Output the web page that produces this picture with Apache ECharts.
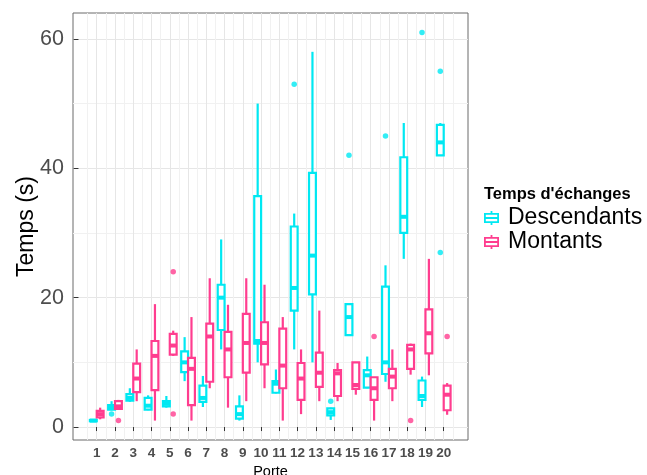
<!DOCTYPE html>
<html>
<head>
<meta charset="utf-8">
<script src="https://cdn.jsdelivr.net/npm/echarts@6/dist/echarts.min.js"></script>
<style>html,body{margin:0;padding:0;background:#fff}#chart{width:647px;height:475px}</style>
</head>
<body>
<div id="chart"></div>
<script>
const gates = [1,2,3,4,5,6,7,8,9,10,11,12,13,14,15,16,17,18,19,20];
const yTicks = [0, 20, 40, 60];
// [min, Q1, median, Q3, max]
const descBoxes = [
  [0.8, 0.9, 1.0, 1.1, 1.2],
  [2.6, 2.7, 3.0, 3.4, 4.0],
  [3.9, 4.1, 4.5, 5.1, 6.0],
  [2.6, 2.7, 3.3, 4.5, 4.9],
  [3.0, 3.2, 3.6, 4.0, 4.8],
  [7.1, 8.5, 10.0, 11.7, 13.9],
  [3.1, 3.9, 4.5, 6.4, 7.9],
  [12.0, 15.0, 20.0, 22.0, 29.0],
  [1.0, 1.3, 2.0, 3.2, 4.9],
  [10.0, 12.9, 13.3, 35.7, 50.0],
  [5.2, 5.3, 6.7, 7.1, 8.9],
  [12.0, 18.0, 21.5, 31.0, 33.0],
  [10.0, 20.5, 26.5, 39.3, 58.0],
  [1.1, 1.8, 2.3, 2.9, 3.0],
  [14.2, 14.2, 17.0, 19.0, 19.0],
  [6.0, 6.1, 8.0, 8.8, 10.9],
  [7.0, 8.2, 10.0, 21.7, 25.0],
  [26.0, 30.0, 32.5, 41.7, 47.0],
  [3.1, 4.2, 4.8, 7.2, 7.8],
  [41.9, 42.0, 44.0, 46.7, 47.0]
];
const montBoxes = [
  [1.2, 1.5, 2.0, 2.5, 3.0],
  [2.8, 2.8, 3.2, 4.0, 4.2],
  [4.0, 5.4, 7.5, 9.8, 12.0],
  [1.0, 5.7, 11.0, 13.3, 19.0],
  [11.0, 11.2, 12.6, 14.4, 14.9],
  [1.0, 3.4, 9.0, 10.7, 17.0],
  [6.0, 7.0, 14.0, 16.0, 23.0],
  [3.0, 7.7, 12.0, 14.7, 18.9],
  [4.0, 8.4, 13.0, 17.5, 23.0],
  [6.0, 9.7, 13.0, 16.2, 22.0],
  [1.0, 6.0, 9.5, 15.2, 17.0],
  [2.0, 4.2, 7.5, 9.9, 12.0],
  [4.0, 6.2, 8.4, 11.5, 18.0],
  [4.0, 4.8, 8.3, 8.8, 9.9],
  [5.0, 5.9, 6.5, 10.0, 10.0],
  [1.0, 4.2, 6.0, 7.7, 7.7],
  [4.0, 6.0, 7.8, 9.0, 12.0],
  [8.1, 9.0, 12.0, 12.7, 12.9],
  [8.0, 11.4, 14.5, 18.2, 26.0],
  [1.9, 2.6, 5.0, 6.4, 6.8]
];
// [gate, value]
const descOutliers = [[2, 2.0], [12, 53], [14, 4.0], [15, 42], [17, 45], [19, 61], [20, 55], [20, 27]];
const montOutliers = [[2, 1.0], [5, 24], [5, 2.0], [16, 14], [18, 1.0], [20, 14]];

const CYAN = '#00E8F2';
const PINK = '#FF3D8F';
const DODGE = 0.1875;
const BOX_W = 0.375;
const LW = 2.2;
const MED_LW = 4;
const FONT = '"Liberation Sans", Arial, sans-serif';
const ICON = 'path://M6.6 0H8.4V2H15V12H8.4V14H6.6V12H0V2H6.6Z M1.8 3.8V5.9H13.2V3.8Z M1.8 8.1V10.2H13.2V8.1Z';

function makeRender(side) {
  return function (params, api) {
    const g = api.value(0);
    const cx = api.coord([g + side * DODGE, 0])[0];
    const halfW = api.size([BOX_W, 0])[0] / 2;
    const yMin = api.coord([g, api.value(1)])[1];
    const yQ1 = api.coord([g, api.value(2)])[1];
    const yMed = api.coord([g, api.value(3)])[1];
    const yQ3 = api.coord([g, api.value(4)])[1];
    const yMax = api.coord([g, api.value(5)])[1];
    const color = api.visual('color');
    return {
      type: 'group',
      children: [
        { type: 'line', shape: { x1: cx, y1: yMax, x2: cx, y2: yQ3 }, style: { stroke: color, lineWidth: LW } },
        { type: 'line', shape: { x1: cx, y1: yQ1, x2: cx, y2: yMin }, style: { stroke: color, lineWidth: LW } },
        { type: 'rect', shape: { x: cx - halfW, y: yQ3, width: 2 * halfW, height: Math.max(yQ1 - yQ3, 0.5) },
          style: { fill: '#fff', stroke: color, lineWidth: LW } },
        { type: 'line', shape: { x1: cx - halfW, y1: yMed, x2: cx + halfW, y2: yMed }, style: { stroke: color, lineWidth: MED_LW } }
      ]
    };
  };
}

const chart = echarts.init(document.getElementById('chart'), null, { renderer: 'canvas' });
chart.setOption({
  animation: false,
  color: [CYAN, PINK],
  textStyle: { fontFamily: FONT },
  title: {
    text: "Temps d'échanges", left: 484, top: 186, padding: 0,
    textStyle: { fontSize: 16.5, fontWeight: 'bold', color: '#000', fontFamily: FONT }
  },
  legend: {
    left: 484, top: 206, orient: 'vertical', padding: 0,
    itemWidth: 15, itemHeight: 14, itemGap: 0,
    data: [{ name: 'Descendants', icon: ICON }, { name: 'Montants', icon: ICON }],
    textStyle: { fontSize: 23, color: '#000', lineHeight: 24, padding: [0, 0, 0, 4], fontFamily: FONT },
    itemStyle: { borderWidth: 0 },
    selectedMode: false
  },
  grid: {
    left: 73, right: 179, top: 13, bottom: 35, containLabel: false, outerBoundsMode: 'none',
    show: true, borderColor: '#6b6b6b', borderWidth: 1, backgroundColor: '#fff'
  },
  xAxis: {
    type: 'value', min: -0.3, max: 21.33, splitNumber: 20,
    name: 'Porte', nameLocation: 'middle', nameGap: 24, nameMoveOverlap: false,
    nameTextStyle: { fontSize: 14.5, color: '#000', fontFamily: FONT },
    axisLine: { show: false },
    axisTick: { show: true, length: 4, lineStyle: { color: '#333', width: 1 }, customValues: gates },
    axisLabel: { customValues: gates, fontSize: 13.5, fontWeight: 'bold', color: '#4D4D4D', margin: 6, fontFamily: FONT },
    splitLine: { show: true, lineStyle: { color: '#E6E6E6', width: 1 } },
    minorTick: { show: false, splitNumber: 2 },
    minorSplitLine: { show: true, lineStyle: { color: '#F1F1F1', width: 1 } }
  },
  yAxis: {
    type: 'value', min: -2, max: 64, splitNumber: 3,
    name: 'Temps (s)', nameLocation: 'middle', nameGap: 35, nameRotate: 90, nameMoveOverlap: false,
    nameTextStyle: { fontSize: 23, color: '#000', fontFamily: FONT },
    axisLine: { show: false },
    axisTick: { show: true, length: 5, lineStyle: { color: '#333', width: 1 }, customValues: yTicks },
    axisLabel: { customValues: yTicks, fontSize: 21.5, color: '#4D4D4D', margin: 9, fontFamily: FONT },
    splitLine: { show: true, lineStyle: { color: '#E6E6E6', width: 1 } },
    minorTick: { show: false, splitNumber: 2 },
    minorSplitLine: { show: true, lineStyle: { color: '#F1F1F1', width: 1 } }
  },
  series: [
    {
      type: 'custom', name: 'Descendants', renderItem: makeRender(-1),
      itemStyle: { color: CYAN },
      encode: { x: 0, y: [1, 2, 3, 4, 5] },
      data: gates.map((g, i) => [g].concat(descBoxes[i])), z: 2
    },
    {
      type: 'custom', name: 'Montants', renderItem: makeRender(1),
      itemStyle: { color: PINK },
      encode: { x: 0, y: [1, 2, 3, 4, 5] },
      data: gates.map((g, i) => [g].concat(montBoxes[i])), z: 3
    },
    {
      type: 'scatter', name: 'Descendants', symbol: 'circle', symbolSize: 5.5,
      itemStyle: { color: CYAN }, z: 4,
      data: descOutliers.map(([g, v]) => [g - DODGE, v])
    },
    {
      type: 'scatter', name: 'Montants', symbol: 'circle', symbolSize: 5.5,
      itemStyle: { color: PINK }, z: 4,
      data: montOutliers.map(([g, v]) => [g + DODGE, v])
    }
  ]
});
</script>
</body>
</html>
